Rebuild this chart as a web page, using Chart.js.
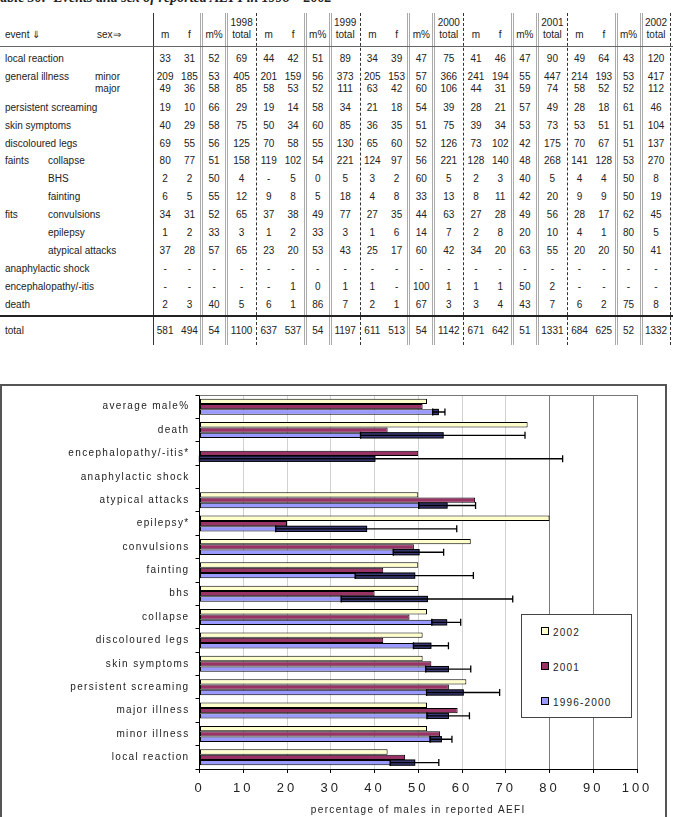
<!DOCTYPE html>
<html>
<head>
<meta charset="utf-8">
<script src="https://cdn.jsdelivr.net/npm/chart.js@4.4.1/dist/chart.umd.min.js"></script>
<style>
  body { margin: 0; width: 673px; height: 817px; overflow: hidden; background: #fff; position: relative;
         font-family: 'Liberation Sans', Arial, sans-serif; color: #222; }
  #title { position: absolute; left: -7px; top: -11px; font: italic bold 14px 'Liberation Serif', 'Times New Roman', serif;
           white-space: nowrap; line-height: 17px; }
  #table { position: absolute; left: 0; top: 0; width: 673px; height: 350px; font-size: 10px; }
  #table .t { position: absolute; line-height: 12px; white-space: nowrap; }
  #table .c { text-align: center; }
  #table .v { position: absolute; top: 13px; height: 332px; }
  #chartBox { position: absolute; left: 0; top: 384px; width: 667px; height: 450px; border: 2px solid #555; box-sizing: border-box; }
  #chartWrap { position: absolute; left: 2px; top: 386px; width: 664px; height: 431px; }
  #legend { position: absolute; left: 521px; top: 614px; width: 111px; height: 104px; border: 1px solid #444;
            box-sizing: border-box; background: #fff; font-size: 10px; letter-spacing: 1.2px; }
  #legend .item { position: absolute; left: 19px; height: 12px; line-height: 12px; white-space: nowrap; }
  #legend .sw { display: inline-block; width: 6px; height: 6px; border: 1px solid #000; margin-right: 4px; vertical-align: 1px; }
</style>
</head>
<body>
<div id="title">Table 30:&nbsp; Events and sex of reported AEFI in 1998 – 2002</div>
<div id="table"></div>
<div id="chartBox"></div>
<div id="chartWrap"><canvas id="chart"></canvas></div>
<div id="legend"></div>
<script>
// ---- table data ----
const years = ['1998', '1999', '2000', '2001', '2002'];
const rowLabels = ['local reaction', 'general illness', '', 'persistent screaming', 'skin symptoms', 'discoloured legs',
  'faints', '', '', 'fits', '', '', 'anaphylactic shock', 'encephalopathy/-itis', 'death', 'total'];
const rowSubLabels = ['', 'minor', 'major', '', '', '', 'collapse', 'BHS', 'fainting', 'convulsions', 'epilepsy',
  'atypical attacks', '', '', '', ''];
const rowValues = [
  [33, 31, 52, 69, 44, 42, 51, 89, 34, 39, 47, 75, 41, 46, 47, 90, 49, 64, 43, 120],
  [209, 185, 53, 405, 201, 159, 56, 373, 205, 153, 57, 366, 241, 194, 55, 447, 214, 193, 53, 417],
  [49, 36, 58, 85, 58, 53, 52, 111, 63, 42, 60, 106, 44, 31, 59, 74, 58, 52, 52, 112],
  [19, 10, 66, 29, 19, 14, 58, 34, 21, 18, 54, 39, 28, 21, 57, 49, 28, 18, 61, 46],
  [40, 29, 58, 75, 50, 34, 60, 85, 36, 35, 51, 75, 39, 34, 53, 73, 53, 51, 51, 104],
  [69, 55, 56, 125, 70, 58, 55, 130, 65, 60, 52, 126, 73, 102, 42, 175, 70, 67, 51, 137],
  [80, 77, 51, 158, 119, 102, 54, 221, 124, 97, 56, 221, 128, 140, 48, 268, 141, 128, 53, 270],
  [2, 2, 50, 4, '-', 5, 0, 5, 3, 2, 60, 5, 2, 3, 40, 5, 4, 4, 50, 8],
  [6, 5, 55, 12, 9, 8, 5, 18, 4, 8, 33, 13, 8, 11, 42, 20, 9, 9, 50, 19],
  [34, 31, 52, 65, 37, 38, 49, 77, 27, 35, 44, 63, 27, 28, 49, 56, 28, 17, 62, 45],
  [1, 2, 33, 3, 1, 2, 33, 3, 1, 6, 14, 7, 2, 8, 20, 10, 4, 1, 80, 5],
  [37, 28, 57, 65, 23, 20, 53, 43, 25, 17, 60, 42, 34, 20, 63, 55, 20, 20, 50, 41],
  ['-', '-', '-', '-', '-', '-', '-', '-', '-', '-', '-', '-', '-', '-', '-', '-', '-', '-', '-', '-'],
  ['-', '-', '-', '-', '-', 1, 0, 1, 1, '-', 100, 1, 1, 1, 50, 2, '-', '-', '-', '-'],
  [2, 3, 40, 5, 6, 1, 86, 7, 2, 1, 67, 3, 3, 4, 43, 7, 6, 2, 75, 8],
  [581, 494, 54, 1100, 637, 537, 54, 1197, 611, 513, 54, 1142, 671, 642, 51, 1331, 684, 625, 52, 1332],
];
const rowY = [59, 77, 89, 107.5, 125.5, 143.5, 161, 179, 197, 215, 233, 251, 269, 287, 305, 331];

// ---- chart data ----
const categories = ['average male%', 'death', 'encephalopathy/-itis*', 'anaphylactic shock', 'atypical attacks',
  'epilepsy*', 'convulsions', 'fainting', 'bhs', 'collapse', 'discoloured legs', 'skin symptoms',
  'persistent screaming', 'major illness', 'minor illness', 'local reaction'];
const male2002 = [52, 75, null, null, 50, 80, 62, 50, 50, 52, 51, 51, 61, 52, 52, 43];
const male2001 = [51, 43, 50, null, 63, 20, 49, 42, 40, 48, 42, 53, 57, 59, 55, 47];
const male9600 = [54.6, 55.7, 40.1, null, 56.6, 38.2, 50.2, 49.2, 52.1, 56.5, 52.9, 56.9, 60.3, 56.9, 55.3, 49.2];
const errLow = [53.3, 36.8, 0, null, 50.1, 17.4, 44.3, 35.6, 32.4, 53.1, 48.9, 51.7, 51.9, 52.0, 52.7, 43.6];
const errHigh = [56.1, 74.4, 83.0, null, 63.1, 58.8, 55.8, 62.6, 71.6, 59.7, 56.9, 62.0, 68.6, 61.7, 57.7, 54.7];
const xTicks = [0, 10, 20, 30, 40, 50, 60, 70, 80, 90, 100];

// ---- build table ----
const tbl = document.getElementById('table');
const colW = [24.3, 24.3, 25, 30];
const firstX = 153;
const groupW = colW.reduce((a, b) => a + b, 0);

function addText(txt, left, y, width) {
  const d = document.createElement('div');
  d.className = 't' + (width ? ' c' : '');
  d.textContent = txt;
  d.style.left = left + 'px';
  d.style.top = (y - 6) + 'px';
  if (width) d.style.width = width + 'px';
  tbl.appendChild(d);
}
function addVLine(x, style) {
  const d = document.createElement('div');
  d.className = 'v';
  d.style.left = x + 'px';
  d.style.borderLeft = style;
  tbl.appendChild(d);
}
function addHLine(y, h, color) {
  const d = document.createElement('div');
  d.style.cssText = `position:absolute;left:0;width:673px;top:${y}px;height:${h}px;background:${color}`;
  tbl.appendChild(d);
}

addText('event ⇓', 5, 35);
addText('sex⇒', 97, 35);
addVLine(firstX - 0.5, '1px solid #333');
years.forEach((yr, g) => {
  const base = firstX + g * groupW;
  let x = base;
  ['m', 'f', 'm%'].forEach((h, k) => { addText(h, x, 35, colW[k]); x += colW[k]; });
  addText(yr, x, 23, colW[3]);
  addText('total', x, 35, colW[3]);
  if (g > 0) addVLine(base - 0.5, '1px dashed #333');
  addVLine(base + colW[0] + colW[1] - 1.5, '3px double #aaa');
  addVLine(base + colW[0] + colW[1] + colW[2] - 1.5, '3px double #aaa');
});
addVLine(firstX + 5 * groupW - 1, '1px dashed #333');
addHLine(46, 1, '#666');
addHLine(315, 2, '#222');

rowValues.forEach((vals, r) => {
  const y = rowY[r];
  if (rowLabels[r]) addText(rowLabels[r], 5, y);
  if (rowSubLabels[r]) addText(rowSubLabels[r], r <= 2 ? 95 : 48, y);
  vals.forEach((v, i) => {
    const g = Math.floor(i / 4), k = i % 4;
    let x = firstX + g * groupW;
    for (let j = 0; j < k; j++) x += colW[j];
    addText(String(v), x, y, colW[k]);
  });
});

// ---- chart ----
const spacing = {
  id: 'spacing',
  beforeDraw(chart) {
    const wrap = (scale, fn, sp) => {
      if (scale['_sp_' + fn]) return;
      const orig = scale[fn];
      scale[fn] = function (...args) {
        const c = this.ctx;
        const prev = c.letterSpacing;
        c.letterSpacing = sp;
        orig.apply(this, args);
        c.letterSpacing = prev;
      };
      scale['_sp_' + fn] = true;
    };
    wrap(chart.scales.x, 'drawLabels', '3px');
    wrap(chart.scales.x, 'drawTitle', '1.35px');
    wrap(chart.scales.y, 'drawLabels', '1.35px');
  },
};

const errorBars = {
  id: 'errorBars',
  afterDatasetsDraw(chart) {
    const { ctx, scales: { x } } = chart;
    const meta = chart.getDatasetMeta(2);
    ctx.save();
    meta.data.forEach((bar, i) => {
      if (errLow[i] == null || male9600[i] == null) return;
      const lo = x.getPixelForValue(errLow[i]);
      const hi = x.getPixelForValue(errHigh[i]);
      const top = bar.y - bar.height / 2;
      if (bar.x > lo) {
        ctx.fillStyle = '#3a3a78';
        ctx.fillRect(lo, top, bar.x - lo, bar.height);
        ctx.strokeStyle = '#000';
        ctx.lineWidth = 1;
        ctx.strokeRect(lo, top, bar.x - lo, bar.height);
      }
      ctx.strokeStyle = '#000';
      ctx.lineWidth = 1.3;
      ctx.beginPath();
      ctx.moveTo(lo, bar.y);
      ctx.lineTo(hi, bar.y);
      [lo, hi].forEach((px) => {
        ctx.moveTo(px, bar.y - 3.5);
        ctx.lineTo(px, bar.y + 3.5);
      });
      ctx.stroke();
    });
    ctx.restore();
  },
};

const plotFrame = {
  id: 'plotFrame',
  beforeDatasetsDraw(chart) {
    const { ctx, chartArea: a } = chart;
    ctx.save();
    ctx.strokeStyle = '#777';
    ctx.lineWidth = 1;
    ctx.beginPath();
    ctx.moveTo(a.left, a.top + 0.5);
    ctx.lineTo(a.right, a.top + 0.5);
    ctx.stroke();
    ctx.restore();
  },
};

const font = "'Liberation Sans', Arial, sans-serif";

const chart = new Chart(document.getElementById('chart'), {
  type: 'bar',
  data: {
    labels: categories,
    datasets: [
      { label: '2002', data: male2002, backgroundColor: '#ffffcc' },
      { label: '2001', data: male2001, backgroundColor: '#993366' },
      { label: '1996-2000', data: male9600, backgroundColor: '#9999ff' },
    ].map((d) => ({ ...d, borderColor: '#000', borderWidth: 1, borderSkipped: false,
      categoryPercentage: 0.68, barPercentage: 1.0 })),
  },
  options: {
    indexAxis: 'y',
    responsive: true,
    maintainAspectRatio: false,
    animation: false,
    layout: { padding: { top: 9, right: 29, left: 0, bottom: 0 } },
    plugins: {
      legend: { display: false },
      tooltip: { enabled: false },
    },
    scales: {
      x: {
        min: 0,
        max: 100,
        afterBuildTicks: (scale) => { scale.ticks = xTicks.map((v) => ({ value: v })); },
        afterFit: (scale) => { scale.height = 48; scale.paddingLeft = 0; scale.paddingRight = 0; },
        ticks: { color: '#222', font: { family: font, size: 13 }, padding: 8, maxRotation: 0 },
        grid: {
          color: (c) => (c.tick && c.tick.value >= 80 ? '#7a7a7a' : '#d2d2d2'),
          tickColor: '#000',
          tickLength: 4,
          lineWidth: 1,
        },
        border: { display: true, color: '#000', width: 1 },
        title: {
          display: true,
          text: 'percentage of males in reported AEFI',
          color: '#222',
          font: { family: font, size: 10 },
          padding: { top: 0, bottom: 1 },
        },
      },
      y: {
        afterFit: (scale) => { scale.width = 197.5; scale.paddingTop = 0; scale.paddingBottom = 0; },
        ticks: { color: '#222', font: { family: font, size: 10 }, padding: 6, autoSkip: false },
        grid: { drawOnChartArea: false, drawTicks: true, tickLength: 4, color: '#000', tickColor: '#000' },
        border: { display: true, color: '#000', width: 1 },
      },
    },
  },
  plugins: [spacing, plotFrame, errorBars],
});

// legend built from the chart's datasets
const legendBox = document.getElementById('legend');
[...chart.data.datasets].forEach((ds, i) => {
  const item = document.createElement('div');
  item.className = 'item';
  item.style.top = (12 + i * 35) + 'px';
  item.innerHTML = `<span class="sw" style="background:${ds.backgroundColor}"></span>${ds.label}`;
  legendBox.appendChild(item);
});
</script>
</body>
</html>
